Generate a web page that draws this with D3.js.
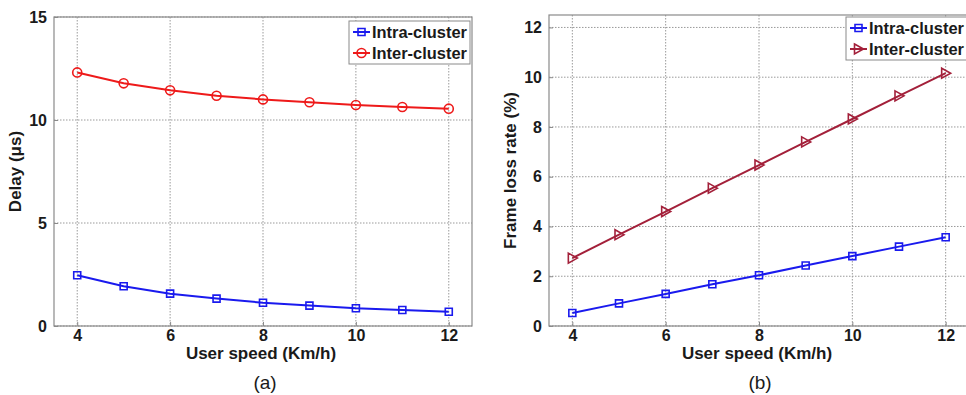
<!DOCTYPE html>
<html>
<head>
<meta charset="utf-8">
<script src="https://cdn.jsdelivr.net/npm/d3@7"></script>
<style>
  body { margin: 0; background: #fff; }
  text { font-family: Arial, "Liberation Sans", sans-serif; }
</style>
</head>
<body>
<svg id="chart" width="966" height="395"></svg>
<script>
const speeds = [4, 5, 6, 7, 8, 9, 10, 11, 12]
const xTicks = [4, 6, 8, 10, 12]

// (a) delay in microseconds
const delayIntra = [2.46, 1.93, 1.57, 1.33, 1.13, 0.99, 0.86, 0.78, 0.69]
const delayInter = [12.31, 11.78, 11.44, 11.18, 11.0, 10.86, 10.73, 10.63, 10.55]
const delayTicks = [0, 5, 10, 15]

// (b) frame loss rate in percent
const lossIntra = [0.52, 0.91, 1.29, 1.68, 2.04, 2.43, 2.81, 3.19, 3.57]
const lossInter = [2.73, 3.67, 4.6, 5.54, 6.47, 7.4, 8.32, 9.25, 10.16]
const lossTicks = [0, 2, 4, 6, 8, 10, 12]

const svg = d3.select('#chart')

function drawPanel(opts) {
  const { left, right, top, bottom, yDomain, yTicks, yLabel, caption, series } = opts
  const x = d3.scaleLinear().domain([3.5, 12.5]).range([left, right])
  const y = d3.scaleLinear().domain(yDomain).range([bottom, top])
  const g = svg.append('g')

  // grid
  g.selectAll('.vgrid').data(xTicks).join('line')
    .attr('x1', (d) => x(d)).attr('x2', (d) => x(d))
    .attr('y1', top).attr('y2', bottom)
    .attr('stroke', '#9a9a9a').attr('stroke-width', 1).attr('stroke-dasharray', '1.5,1.5')
  g.selectAll('.hgrid').data(yTicks).join('line')
    .attr('x1', left).attr('x2', right)
    .attr('y1', (d) => y(d)).attr('y2', (d) => y(d))
    .attr('stroke', '#9a9a9a').attr('stroke-width', 1).attr('stroke-dasharray', '1.5,1.5')

  // box
  g.append('rect')
    .attr('x', left).attr('y', top)
    .attr('width', right - left).attr('height', bottom - top)
    .attr('fill', 'none').attr('stroke', '#8a8a8a').attr('stroke-width', 1.2)

  // axes
  const xAxis = d3.axisBottom(x).tickValues(xTicks).tickSize(-4).tickPadding(4)
  const yAxis = d3.axisLeft(y).tickValues(yTicks).tickSize(-4).tickPadding(7)
  const xa = g.append('g').attr('transform', `translate(0,${bottom})`).call(xAxis)
  const ya = g.append('g').attr('transform', `translate(${left},0)`).call(yAxis)
  ;[xa, ya].forEach((a) => {
    a.select('.domain').remove()
    a.selectAll('line').attr('stroke', '#8a8a8a')
    a.selectAll('text').attr('font-size', 16).attr('font-weight', 'bold').attr('fill', '#1a1a1a')
      .style('font-family', 'Arial, "Liberation Sans", sans-serif')
  })

  g.append('text')
    .attr('x', (left + right) / 2 - 2).attr('y', bottom + 33)
    .attr('text-anchor', 'middle').attr('font-size', 17).attr('font-weight', 'bold').attr('fill', '#1a1a1a')
    .text('User speed (Km/h)')
  g.append('text')
    .attr('transform', `translate(${left - 33},${(top + bottom) / 2}) rotate(-90)`)
    .attr('text-anchor', 'middle').attr('font-size', 17).attr('font-weight', 'bold').attr('fill', '#1a1a1a')
    .text(yLabel)
  g.append('text')
    .attr('x', opts.captionX).attr('y', 389)
    .attr('text-anchor', 'middle').attr('font-size', 19).attr('fill', '#1a1a1a')
    .text(caption)

  const line = d3.line().x((d) => x(d[0])).y((d) => y(d[1]))
  series.forEach((s) => {
    const pts = speeds.map((v, i) => [v, s.values[i]])
    g.append('path').datum(pts)
      .attr('d', line).attr('fill', 'none').attr('stroke', s.color).attr('stroke-width', 2)
    g.selectAll(null).data(pts).join('path')
      .attr('transform', (d) => `translate(${x(d[0])},${y(d[1])})`)
      .attr('d', markerPath(s.marker))
      .attr('fill', 'none').attr('stroke', s.color).attr('stroke-width', 1.6)
  })

  // legend
  const lg = g.append('g')
  lg.append('rect')
    .attr('x', opts.legend.x).attr('y', opts.legend.y)
    .attr('width', opts.legend.w).attr('height', 43)
    .attr('fill', '#fff').attr('stroke', '#8a8a8a').attr('stroke-width', 1)
  series.forEach((s, i) => {
    const ly = opts.legend.y + 11 + i * 21
    const lx = opts.legend.x + 4
    lg.append('line').attr('x1', lx).attr('x2', lx + 17).attr('y1', ly).attr('y2', ly)
      .attr('stroke', s.color).attr('stroke-width', 2)
    lg.append('path').attr('transform', `translate(${lx + 8.5},${ly})`)
      .attr('d', markerPath(s.marker))
      .attr('fill', 'none').attr('stroke', s.color).attr('stroke-width', 1.6)
    lg.append('text').attr('x', lx + 19).attr('y', ly + 5.5)
      .attr('font-size', 16).attr('font-weight', 'bold').attr('fill', '#1a1a1a')
      .attr('textLength', 95).attr('lengthAdjust', 'spacingAndGlyphs')
      .text(s.name)
  })
}

function markerPath(kind) {
  if (kind === 'square') return 'M-3.5,-3.5H3.5V3.5H-3.5Z'
  if (kind === 'circle') return d3.symbol(d3.symbolCircle, 64)()
  return 'M-4,-5L5,0L-4,5Z'
}

drawPanel({
  left: 54, right: 472, top: 17, bottom: 326,
  yDomain: [0, 15], yTicks: delayTicks, yLabel: 'Delay (\u03bcs)', caption: '(a)', captionX: 265,
  legend: { x: 349, y: 21, w: 121 },
  series: [
    { name: 'Intra-cluster', values: delayIntra, color: '#1a1aee', marker: 'square' },
    { name: 'Inter-cluster', values: delayInter, color: '#ee1a1a', marker: 'circle' },
  ],
})

drawPanel({
  left: 549, right: 969, top: 15, bottom: 326,
  yDomain: [0, 12.5], yTicks: lossTicks, yLabel: 'Frame loss rate (%)', caption: '(b)', captionX: 760,
  legend: { x: 846, y: 17, w: 121 },
  series: [
    { name: 'Intra-cluster', values: lossIntra, color: '#1a1aee', marker: 'square' },
    { name: 'Inter-cluster', values: lossInter, color: '#a3203a', marker: 'triangle' },
  ],
})
</script>
</body>
</html>
